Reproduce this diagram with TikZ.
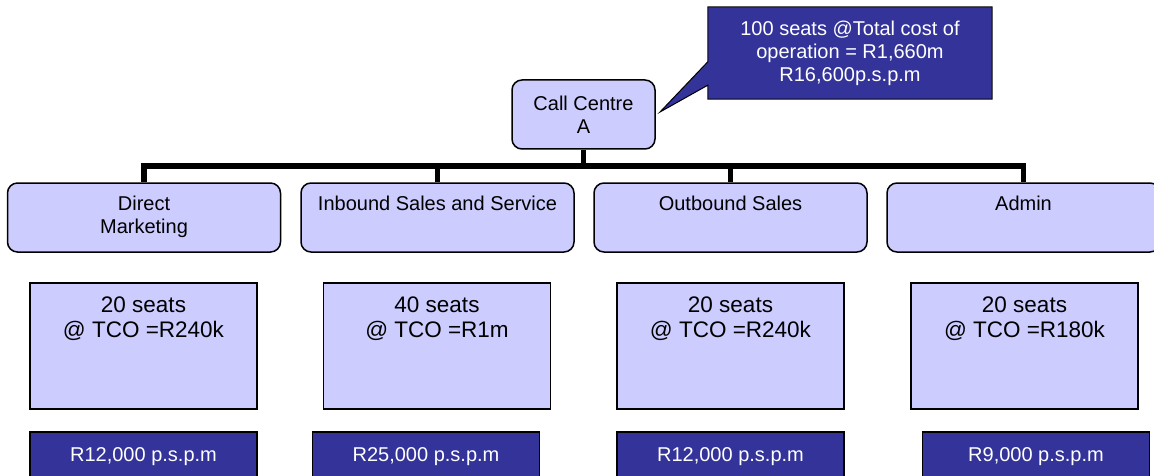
\documentclass[tikz,border=0pt]{standalone}
\usepackage{fontspec}
\setmainfont{Liberation Sans}
\definecolor{boxfill}{HTML}{CCCCFF}
\definecolor{notefill}{HTML}{333399}

\begin{document}
\begin{tikzpicture}[x=1pt,y=-1pt,
  font=\fontsize{20}{23}\selectfont,
  head/.style={draw, line width=1.5pt, rounded corners=10pt, fill=boxfill,
    minimum width=143pt, minimum height=69pt, align=center},
  unit/.style={head, minimum width=273pt},
  seats/.style={draw, line width=1.5pt, fill=boxfill,
    minimum width=227pt, minimum height=126pt},
  cost/.style={draw, line width=1.5pt, fill=notefill, text=white,
    minimum width=227pt, minimum height=50pt},
  note/.style={fill=notefill, text=white, align=center,
    minimum width=284pt, minimum height=92pt},
  toptext/.style={anchor=north, align=center, inner sep=0pt, yshift=-14pt},
  seattext/.style={toptext, font=\fontsize{22.5}{25}\selectfont},
  tree/.style={line width=5.5pt}]
  \useasboundingbox (0,0) rectangle (1154,476);
  \clip (0,0) rectangle (1154,476);

  % top of the tree
  \node[head] (cc) at (583.5,114.5) {Call Centre\\A};
  \node[note] (note) at (850,53) {100 seats @Total cost of\\operation = R1,660m\\R16,600p.s.p.m};
  \coordinate (tip) at (660,112);
  \fill[notefill] (tip) -- ([yshift=-55pt]note.north west) -- ([yshift=14pt]note.south west) -- cycle;
  \draw[line width=1pt] (note.north west) -- (note.north east) -- (note.south east)
    -- (note.south west) -- ([yshift=14pt]note.south west) -- (tip)
    -- ([yshift=-55pt]note.north west) -- cycle;

  % departments
  \node[unit, label={[toptext]north:Direct\\Marketing}] (dm) at (144,217.5) {};
  \node[unit, label={[toptext]north:Inbound Sales and Service}] (inb) at (437.5,217.5) {};
  \node[unit, label={[toptext]north:Outbound Sales}] (outb) at (730.5,217.5) {};
  \node[unit, label={[toptext]north:Admin}] (adm) at (1023.5,217.5) {};

  % connectors
  \coordinate (bar) at (0,166);
  \draw[tree] (dm.north) -- (dm.north |- bar) -- (adm.north |- bar) -- (adm.north);
  \foreach \d in {inb,outb}
    \draw[tree] (\d.north) -- (\d.north |- bar);
  \draw[tree] (cc.south) -- (cc.south |- bar);

  % seats per department
  \node[seats, label={[seattext]north:20 seats\\@ TCO =R240k}] (dmseats) at (143.5,346) {};
  \node[seats, label={[seattext]north:40 seats\\@ TCO =R1m}] (inbseats) at (437,346) {};
  \node[seats, label={[seattext]north:20 seats\\@ TCO =R240k}] (outbseats) at (730.5,346) {};
  \node[seats, label={[seattext]north:20 seats\\@ TCO =R180k}] (admseats) at (1024.5,346) {};

  % cost per seat per month
  \node[cost] (dmcost) at (143.5,457) {R12,000 p.s.p.m};
  \node[cost] (inbcost) at (426,457) {R25,000 p.s.p.m};
  \node[cost] (outbcost) at (730.5,457) {R12,000 p.s.p.m};
  \node[cost] (admcost) at (1036,457) {R9,000 p.s.p.m};
\end{tikzpicture}
\end{document}
